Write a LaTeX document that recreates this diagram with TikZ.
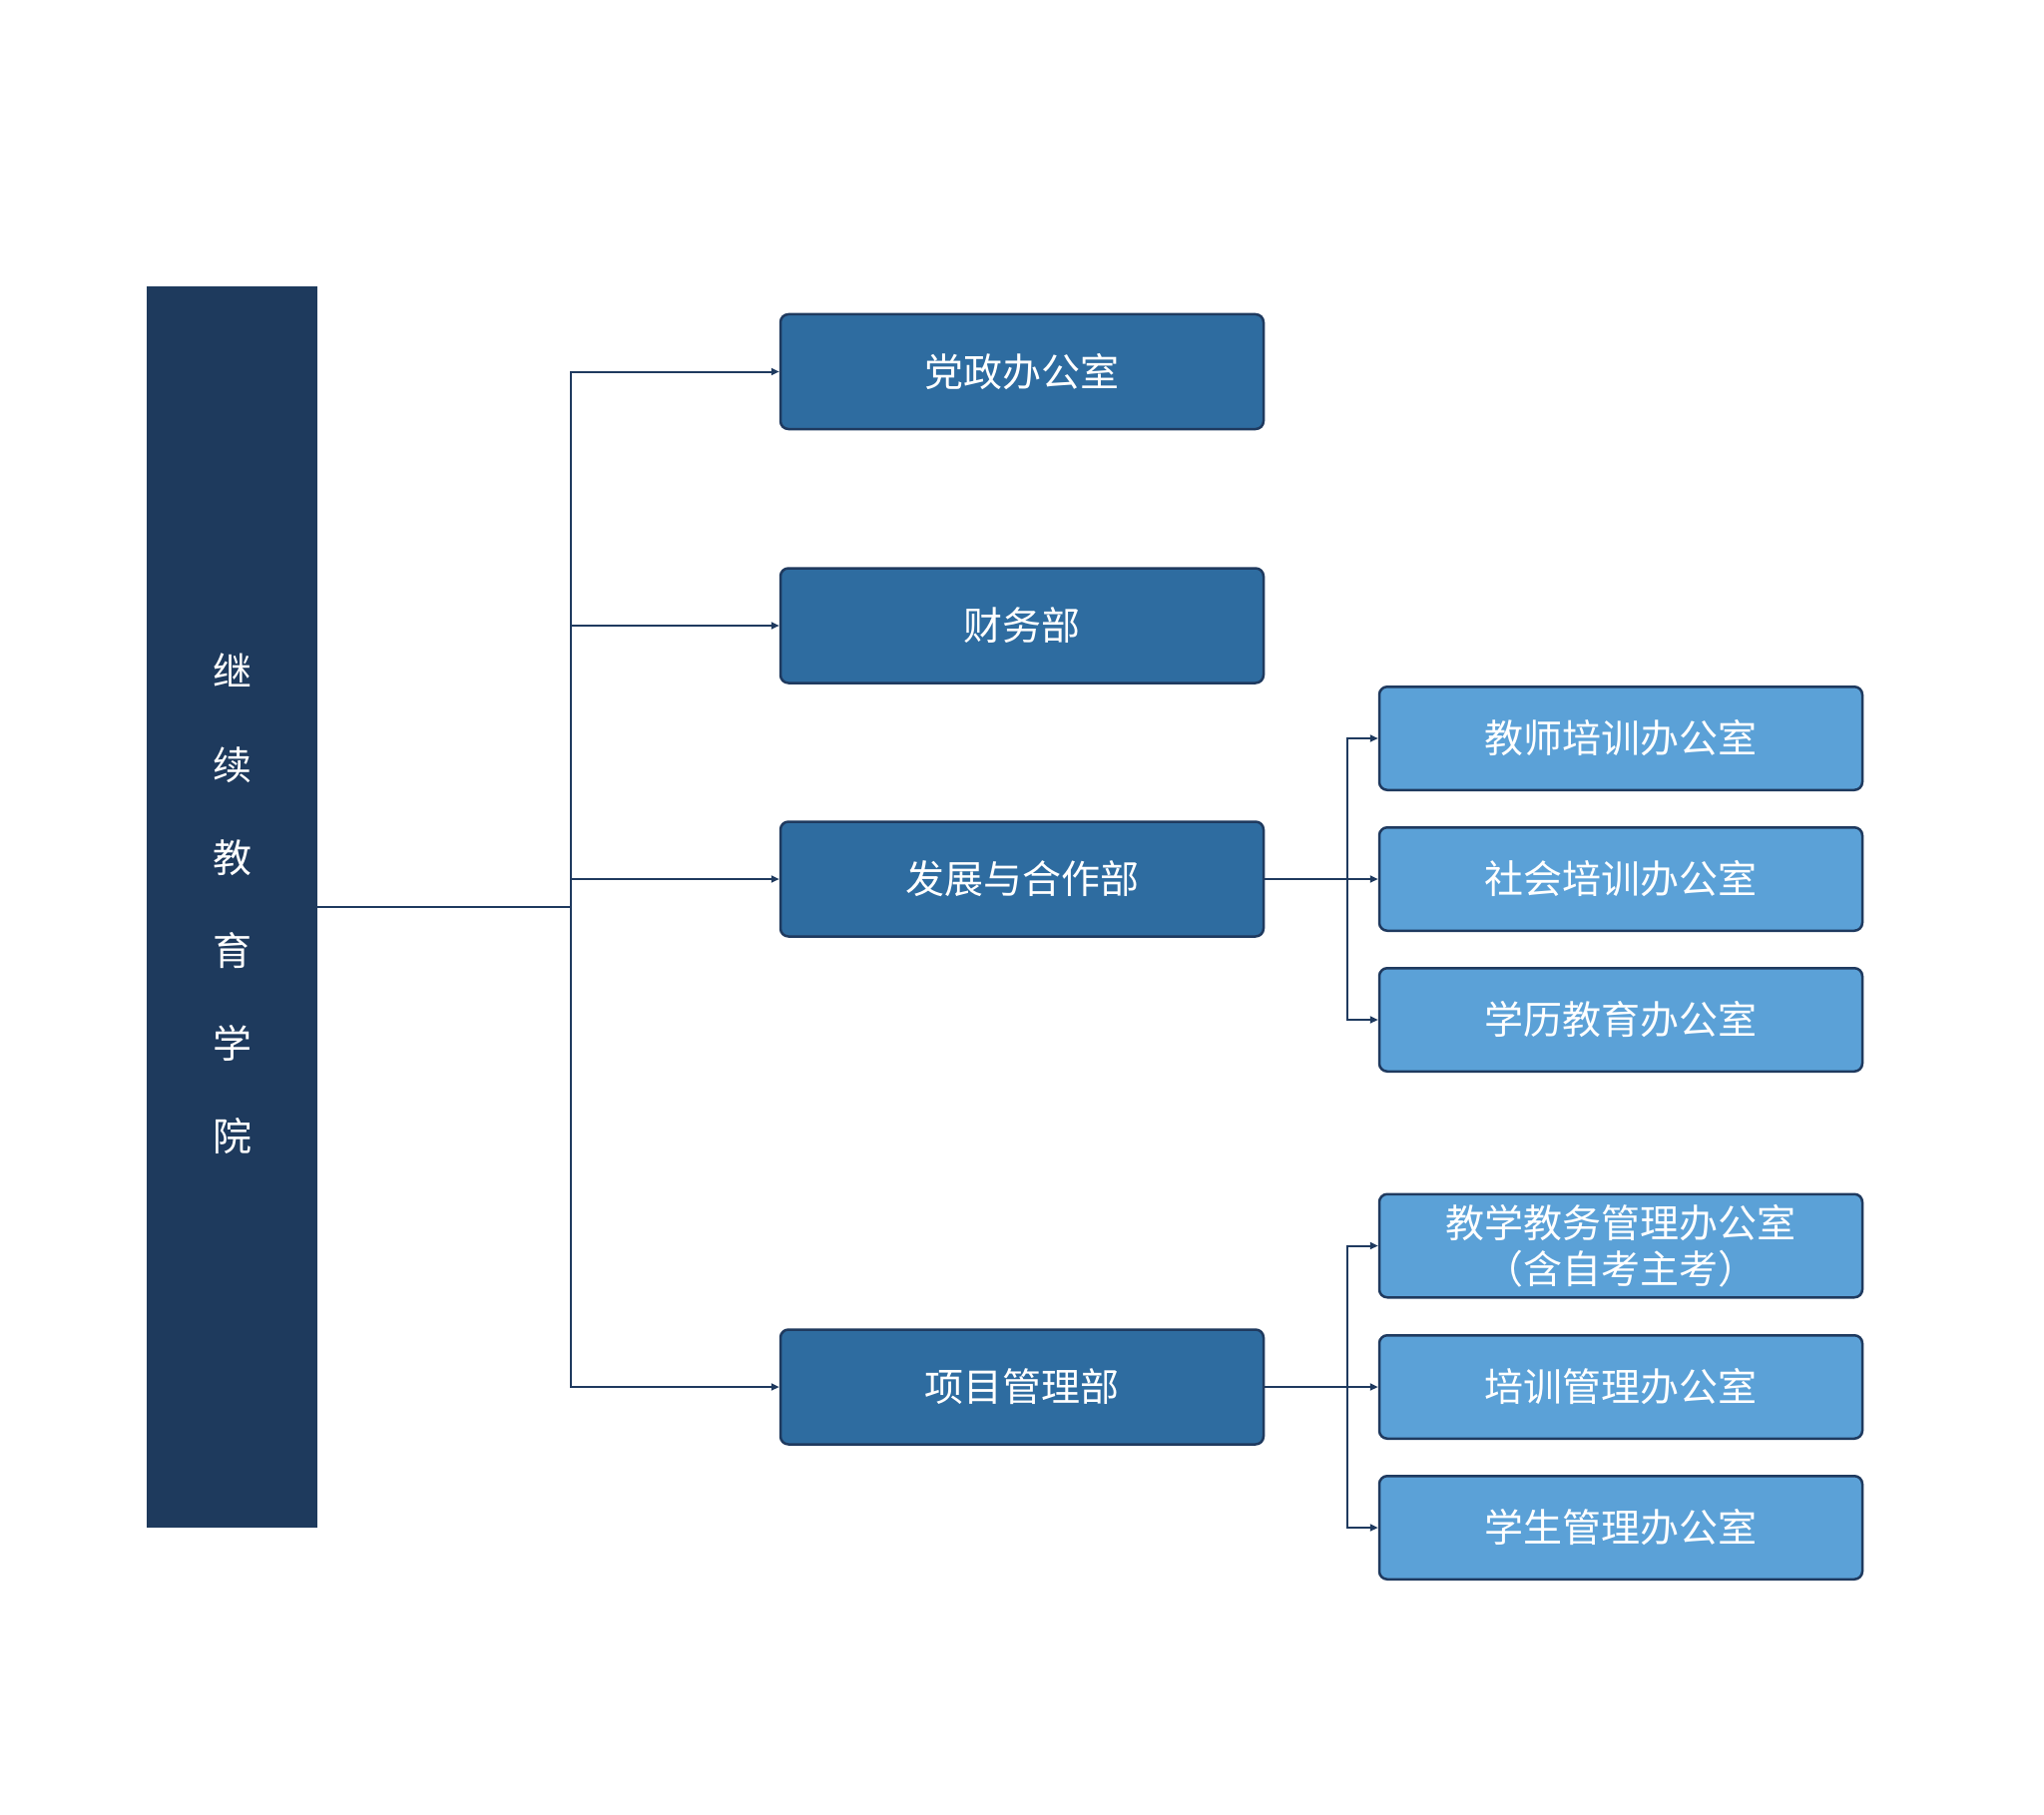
\documentclass[tikz,border=0pt]{standalone}
\usepackage{fontspec}
\setmainfont{Noto Sans CJK SC}
\usetikzlibrary{arrows.meta}
\definecolor{barblue}{RGB}{30,58,93}
\definecolor{midblue}{RGB}{46,108,160}
\definecolor{lightblue}{RGB}{91,161,215}
\definecolor{edgeblue}{RGB}{31,58,95}
\begin{document}
\begin{tikzpicture}[x=1pt,y=-1pt,
  barbox/.style={fill=barblue,draw=none,minimum width=171pt,minimum height=1243.6pt,inner sep=0pt,
    text=white,font=\fontsize{39}{93.2}\selectfont,align=center},
  deptbox/.style={fill=midblue,draw=edgeblue,line width=2.5pt,rounded corners=8pt,
    minimum width=484pt,minimum height=115pt,inner sep=0pt,text=white,
    font=\fontsize{39}{46}\selectfont,align=center},
  officebox/.style={fill=lightblue,draw=edgeblue,line width=2.5pt,rounded corners=8pt,
    minimum width=484pt,minimum height=103.5pt,inner sep=0pt,text=white,
    font=\fontsize{39}{46}\selectfont,align=center},
  conn/.style={draw=edgeblue,line width=2pt},
  arr/.style={conn,-{Triangle[length=8pt,width=7pt]}}]
\useasboundingbox (0,0) rectangle (2048,1819);
\fill[white] (0,0) rectangle (2048,1819);
% left bar
\node[barbox] (bar) at (232,909.2) {};
\node[text=white,font=\fontsize{39}{93.2}\selectfont,align=center,inner sep=0pt] (bartext) at (232.5,906) {继\\续\\教\\育\\学\\院};
% level 1
\node[deptbox] (b1) at (1024,372.5) {党政办公室};
\node[deptbox] (b2) at (1024,627) {财务部};
\node[deptbox] (b3) at (1024,881) {发展与合作部};
\node[deptbox] (b4) at (1024,1390) {项目管理部};
% level 2
\node[officebox] (c1) at (1624,740) {教师培训办公室};
\node[officebox] (c2) at (1624,881) {社会培训办公室};
\node[officebox] (c3) at (1624,1022) {学历教育办公室};
\node[officebox] (c4) at (1624,1248.5) {教学教务管理办公室\\（含自考主考）};
\node[officebox] (c5) at (1624,1390) {培训管理办公室};
\node[officebox] (c6) at (1624,1531) {学生管理办公室};
% connectors
\coordinate (t) at (571.5,909.2);
\draw[conn] (bar.east) -- (t);
\draw[arr] (t) |- (b1.west);
\draw[arr] (t) |- (b2.west);
\draw[arr] (t) |- (b3.west);
\draw[arr] (t) |- (b4.west);
\coordinate (s1) at (1349.5,881);
\draw[conn] (b3.east) -- (s1);
\draw[arr] (s1) |- (c1.west);
\draw[arr] (s1) -- (c2.west);
\draw[arr] (s1) |- (c3.west);
\coordinate (s2) at (1349.5,1390);
\draw[conn] (b4.east) -- (s2);
\draw[arr] (s2) |- (c4.west);
\draw[arr] (s2) -- (c5.west);
\draw[arr] (s2) |- (c6.west);
\end{tikzpicture}
\end{document}
